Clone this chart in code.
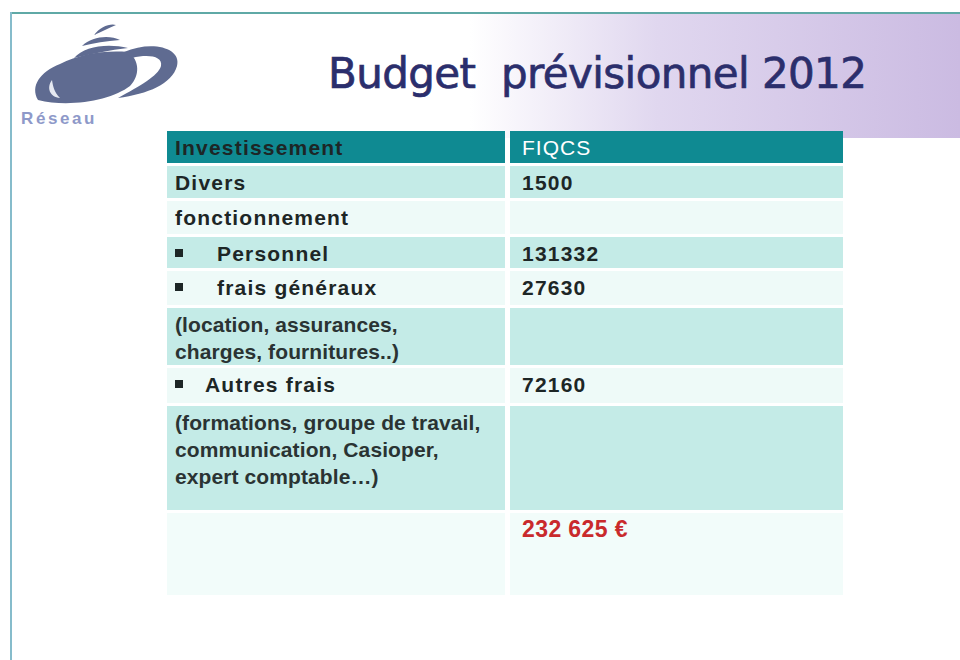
<!DOCTYPE html>
<html lang="fr">
<head>
    <meta charset="UTF-8">
    <title>Budget prévisionnel 2012</title>
    <script src="https://cdn.jsdelivr.net/npm/chart.js"></script>
    <style>
        body { margin: 0; width: 960px; height: 660px; position: relative; background: #fff; overflow: hidden; font-family: "Liberation Sans", Arial, sans-serif; }
        .frameTop { position: absolute; left: 10px; top: 12px; width: 950px; height: 2px; background: #5fa9a6; }
        .frameLeft { position: absolute; left: 10px; top: 12px; width: 2px; height: 648px; background: #86bccb; }
        .band { position: absolute; left: 470px; top: 14px; width: 490px; height: 124px;
                background: linear-gradient(to right, rgba(214,202,234,0) 0%, rgba(214,202,234,0.75) 38%, #cbbbe2 100%); }
        .title { position: absolute; left: 328px; top: 49px; font-family: "DejaVu Sans", Verdana, sans-serif; font-size: 42px; letter-spacing: -0.6px; color: #2b2e6c; white-space: nowrap; -webkit-text-stroke: 0.7px #2b2e6c; }
        .reseau { position: absolute; left: 21px; top: 109px; font-size: 17px; font-weight: bold; letter-spacing: 2.6px; color: #8e99c9; }
        table { position: absolute; left: 162px; top: 128px; border-collapse: separate; border-spacing: 5px 3px; }
        td { padding: 3px 0 0 8px; vertical-align: top; font-size: 21px; line-height: 27px; font-weight: bold; letter-spacing: 1.2px; color: #1d2626; box-sizing: border-box; white-space: nowrap; }
        td.val { padding-left: 12px; }
        tr.head td { background: #0f8a92; }
        tr.head td.val { color: #fff; font-weight: normal; letter-spacing: 1px; }
        tr.dark td { background: #c4ebe7; }
        tr.light td { background: #eefaf8; }
        tr.total td { background: #f2fcfa; }
        .bullet { display: inline-block; width: 8px; height: 8px; background: #1d2626; vertical-align: 4px; }
        .total { color: #c92a2c; font-size: 23px; letter-spacing: 0.4px; }
        td.sub { color: #2a3333; letter-spacing: 0.1px; line-height: 27px; }
    </style>
</head>
<body>
<div class="frameTop"></div>
<div class="frameLeft"></div>
<div class="band"></div>

<svg style="position:absolute;left:0;top:0" width="200" height="110">
    <g fill="#5f6b91">
        <path d="M38,100 C30,86 40,72 60,64 C80,54 104,50 128,52 C140,60 140,76 130,86 C112,100 70,108 38,100 Z"/>
        <path d="M124,52 C152,40 182,48 177,66 C172,84 148,94 118,98 C140,86 158,76 161,66 C163,56 148,54 132,58 Z"/>
        <path d="M74,58 C84,46 108,43 128,48 C110,50 92,54 74,58 Z"/>
        <path d="M82,46 C92,36 110,35 120,40 C106,41 94,43 82,46 Z"/>
        <path d="M94,35 C100,27 110,23 116,25 C108,28 102,32 94,35 Z"/>
    </g>
    <path d="M52,80 C46,88 50,97 60,98 C54,92 53,86 52,80 Z" fill="#e6e9f1"/>
</svg>
<div class="reseau">Réseau</div>

<div class="title">Budget&nbsp; prévisionnel 2012</div>

<table id="budget"><tbody></tbody></table>

<script>
// table data
const headers = ['Investissement', 'FIQCS'];
const postes = ['Divers', 'fonctionnement', 'Personnel', 'frais généraux',
    '(location, assurances,\ncharges, fournitures..)', 'Autres frais',
    '(formations, groupe de travail,\ncommunication, Casioper,\nexpert comptable…)', ''];
const puces = [0, 0, 34, 34, 0, 22, 0, 0];       // bullet indent
const fiqcs = ['1500', '', '131332', '27630', '', '72160', '', '232 625 €'];
const hauteurs = [32, 33, 31, 34, 55, 35, 104, 82];
const styles = ['dark', 'light', 'dark', 'light', 'dark', 'light', 'dark', 'total'];

const tbody = document.querySelector('#budget tbody');

let head = tbody.insertRow();
head.className = 'head';
head.style.height = '32px';
let h0 = head.insertCell(0);
h0.style.width = '338px';
h0.textContent = headers[0];
let h1 = head.insertCell(1);
h1.style.width = '333px';
h1.className = 'val';
h1.textContent = headers[1];

postes.forEach((p, i) => {
    let row = tbody.insertRow();
    row.className = styles[i];
    row.style.height = hauteurs[i] + 'px';
    let c0 = row.insertCell(0);
    let c1 = row.insertCell(1);
    c1.className = 'val';
    if (puces[i]) {
        let b = document.createElement('span');
        b.className = 'bullet';
        b.style.marginRight = puces[i] + 'px';
        c0.appendChild(b);
    }
    p.split('\n').forEach((line, k) => {
        if (k > 0) c0.appendChild(document.createElement('br'));
        c0.appendChild(document.createTextNode(line));
    });
    if (p.startsWith('(')) c0.classList.add('sub');
    c1.textContent = fiqcs[i];
    if (i === postes.length - 1) c1.classList.add('total');
});
</script>
</body>
</html>
